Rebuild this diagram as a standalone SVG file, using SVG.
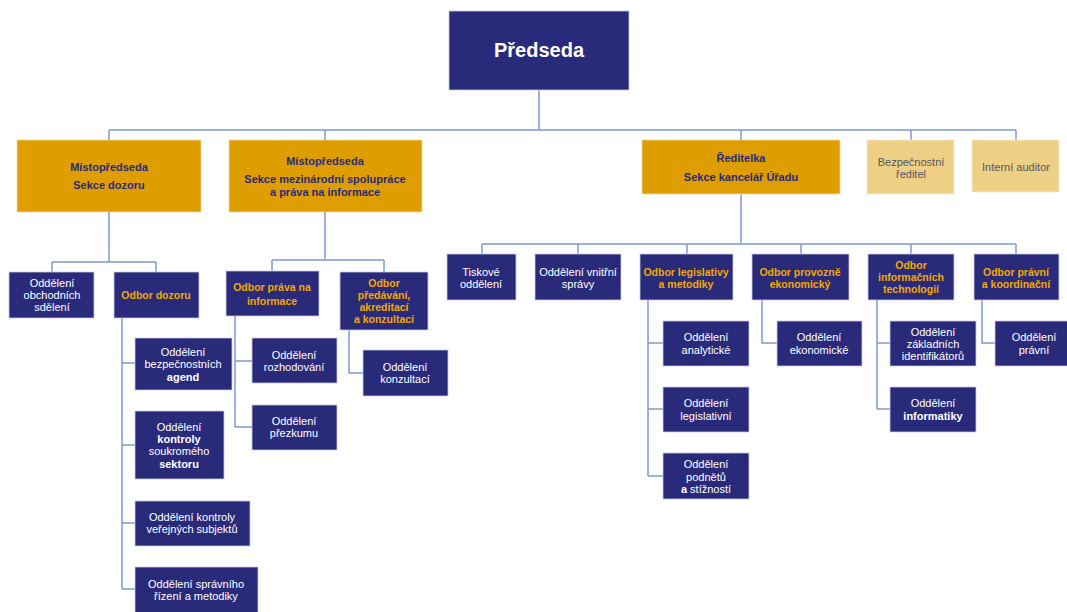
<svg xmlns="http://www.w3.org/2000/svg" width="1067" height="612" viewBox="0 0 1067 612">
<style>
.nv{fill:#2a2a7b;stroke:#c9cbe0;stroke-width:0.8}
.gd{fill:#de9d00;stroke:#f3d9a0;stroke-width:0.8}
.lg{fill:#eecf86;stroke:#f8ecd0;stroke-width:0.8}
text{font-family:"Liberation Sans",Arial,sans-serif;font-size:11px;text-anchor:middle}
.w{fill:#ffffff}
.o{fill:#f2a900;font-weight:bold;font-size:10.5px}
.h{fill:#2a2a7b;font-weight:bold}
.g{fill:#555560}
.b{font-weight:bold}
.con path{fill:none;stroke:#7d9bd1;stroke-width:1.5}
</style>
<rect width="1067" height="612" fill="#ffffff"/>
<g class="con" id="connectors">
<path d="M539 90V130M109 130H1016M109 130V140M325 130V140M741 130V140M911 130V140M1016 130V140"/>
<path d="M109 212V262M52 262H156M52 262V272M156 262V272"/>
<path d="M325 212V260M272 260H384M272 260V271M384 260V272"/>
<path d="M122 318V589M122 363H135M122 445H135M122 523H135M122 589H135"/>
<path d="M235 316V427M235 361H252M235 427H252"/>
<path d="M349 330V373H363"/>
<path d="M741 194V244M482 244H1016M482 244V254M578 244V254M687 244V254M801 244V254M911 244V254M1016 244V254"/>
<path d="M648 300V476M648 343H663M648 409H663M648 476H663"/>
<path d="M762 300V343H777"/>
<path d="M877 300V409M877 343H890M877 409H890"/>
<path d="M982 300V343H995"/>
</g>
<g id="predseda"><rect class="nv" x="449" y="11" width="180" height="79"/><text class="w b" x="539" y="57" style="font-size:20px">Předseda</text></g>
<g id="mistopredseda-dozor"><rect class="gd" x="17" y="140" width="184" height="72"/><text class="h" x="109" y="171">Místopředseda</text><text class="h" x="109" y="189">Sekce dozoru</text></g>
<g id="mistopredseda-mezinarodni"><rect class="gd" x="229" y="140" width="193" height="72"/><text class="h" x="325" y="165">Místopředseda</text><text class="h" x="325" y="183">Sekce mezinárodní spolupráce</text><text class="h" x="325" y="196">a práva na informace</text></g>
<g id="reditelka"><rect class="gd" x="642" y="140" width="198" height="54"/><text class="h" x="741" y="162">Ředitelka</text><text class="h" x="741" y="181">Sekce kancelář Úřadu</text></g>
<g id="bezpecnostni"><rect class="lg" x="867" y="140" width="87" height="54"/><text class="g" x="911" y="166">Bezpečnostní</text><text class="g" x="911" y="178">ředitel</text></g>
<g id="interni"><rect class="lg" x="972" y="140" width="87" height="52"/><text class="g" x="1016" y="171">Interní auditor</text></g>
<g id="obchodni"><rect class="nv" x="9" y="272" width="85" height="46"/><text class="w" x="52" y="287">Oddělení</text><text class="w" x="52" y="299">obchodních</text><text class="w" x="52" y="311">sdělení</text></g>
<g id="odbor-dozoru"><rect class="nv" x="114" y="272" width="85" height="46"/><text class="o" x="156" y="299">Odbor dozoru</text></g>
<g id="odbor-prava"><rect class="nv" x="226" y="271" width="93" height="45"/><text class="o" x="272" y="291">Odbor práva na</text><text class="o" x="272" y="305">informace</text></g>
<g id="odbor-predavani"><rect class="nv" x="340" y="272" width="88" height="58"/><text class="o" x="384" y="287">Odbor</text><text class="o" x="384" y="299">předávání,</text><text class="o" x="384" y="311">akreditací</text><text class="o" x="384" y="323">a konzultací</text></g>
<g id="bezpecnostnich-agend"><rect class="nv" x="135" y="338" width="97" height="52"/><text class="w" x="183" y="356">Oddělení</text><text class="w" x="183" y="368">bezpečnostních</text><text class="w b" x="183" y="381">agend</text></g>
<g id="kontroly-soukromeho"><rect class="nv" x="135" y="411" width="89" height="68"/><text class="w" x="179" y="431">Oddělení</text><text class="w b" x="179" y="443">kontroly</text><text class="w" x="179" y="455">soukromého</text><text class="w b" x="179" y="468">sektoru</text></g>
<g id="kontroly-verejnych"><rect class="nv" x="135" y="501" width="115" height="45"/><text class="w" x="192" y="521">Oddělení kontroly</text><text class="w" x="192" y="533">veřejných subjektů</text></g>
<g id="spravniho-rizeni"><rect class="nv" x="135" y="567" width="123" height="50"/><text class="w" x="196" y="588">Oddělení správního</text><text class="w" x="196" y="600">řízení a metodiky</text></g>
<g id="rozhodovani"><rect class="nv" x="252" y="338" width="85" height="45"/><text class="w" x="294" y="359">Oddělení</text><text class="w" x="294" y="371">rozhodování</text></g>
<g id="prezkumu"><rect class="nv" x="252" y="405" width="85" height="45"/><text class="w" x="294" y="425">Oddělení</text><text class="w" x="294" y="437">přezkumu</text></g>
<g id="konzultaci"><rect class="nv" x="363" y="350" width="85" height="46"/><text class="w" x="405" y="371">Oddělení</text><text class="w" x="405" y="383">konzultací</text></g>
<g id="tiskove"><rect class="nv" x="447" y="254" width="69" height="46"/><text class="w" x="481" y="276">Tiskové</text><text class="w" x="481" y="288">oddělení</text></g>
<g id="vnitrni-spravy"><rect class="nv" x="535" y="254" width="86" height="46"/><text class="w" x="578" y="276">Oddělení vnitřní</text><text class="w" x="578" y="288">správy</text></g>
<g id="odbor-legislativy"><rect class="nv" x="640" y="254" width="93" height="46"/><text class="o" x="686" y="276">Odbor legislativy</text><text class="o" x="686" y="288">a metodiky</text></g>
<g id="odbor-provozne"><rect class="nv" x="752" y="254" width="97" height="46"/><text class="o" x="800" y="276">Odbor provozně</text><text class="o" x="800" y="288">ekonomický</text></g>
<g id="odbor-it"><rect class="nv" x="868" y="254" width="86" height="46"/><text class="o" x="911" y="269">Odbor</text><text class="o" x="911" y="281">informačních</text><text class="o" x="911" y="293">technologií</text></g>
<g id="odbor-pravni"><rect class="nv" x="974" y="254" width="85" height="46"/><text class="o" x="1016" y="276">Odbor právní</text><text class="o" x="1016" y="288">a koordinační</text></g>
<g id="analyticke"><rect class="nv" x="663" y="321" width="86" height="45"/><text class="w" x="706" y="341">Oddělení</text><text class="w" x="706" y="354">analytické</text></g>
<g id="legislativni"><rect class="nv" x="663" y="387" width="86" height="45"/><text class="w" x="706" y="407">Oddělení</text><text class="w" x="706" y="420">legislativní</text></g>
<g id="podnetu"><rect class="nv" x="663" y="453" width="86" height="46"/><text class="w" x="706" y="468">Oddělení</text><text class="w" x="706" y="481">podnětů</text><text class="w" x="706" y="493"><tspan class="b">a</tspan> stížností</text></g>
<g id="ekonomicke"><rect class="nv" x="777" y="321" width="85" height="45"/><text class="w" x="819" y="341">Oddělení</text><text class="w" x="819" y="354">ekonomické</text></g>
<g id="zakladnich"><rect class="nv" x="890" y="321" width="86" height="45"/><text class="w" x="933" y="336">Oddělení</text><text class="w" x="933" y="348">základních</text><text class="w" x="933" y="360">identifikátorů</text></g>
<g id="informatiky"><rect class="nv" x="890" y="387" width="86" height="45"/><text class="w" x="933" y="407">Oddělení</text><text class="w b" x="933" y="420">informatiky</text></g>
<g id="pravni"><rect class="nv" x="995" y="321" width="78" height="45"/><text class="w" x="1034" y="341">Oddělení</text><text class="w" x="1034" y="354">právní</text></g>
</svg>
